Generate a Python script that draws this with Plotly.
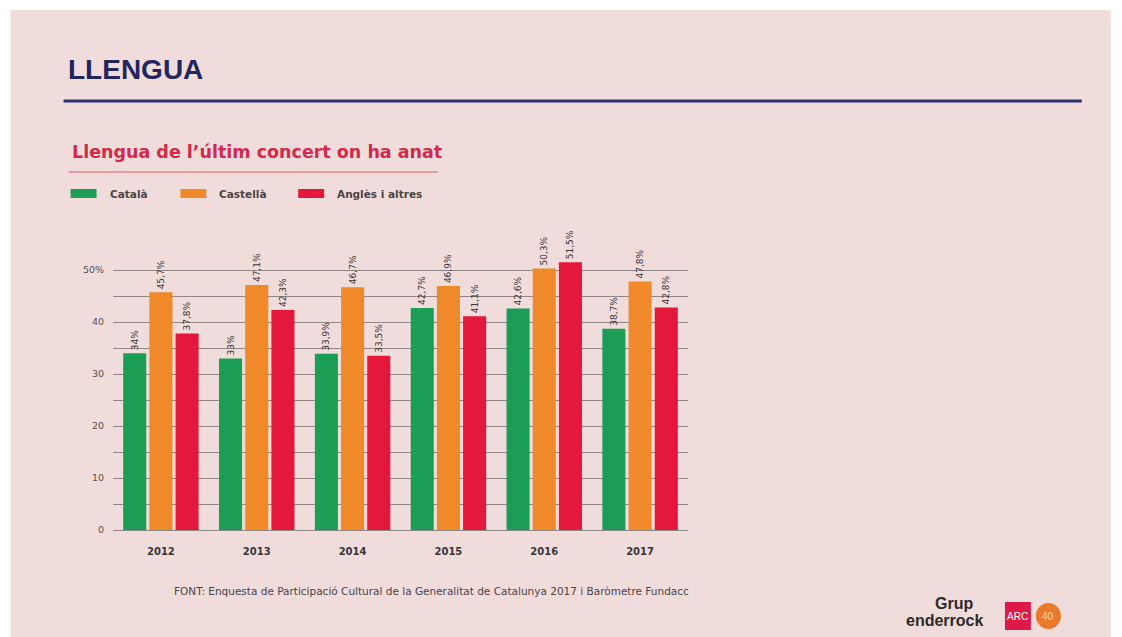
import plotly.graph_objects as go

# ---- data ----
years = ["2012", "2013", "2014", "2015", "2016", "2017"]
catala = [34.0, 33.0, 33.9, 42.7, 42.6, 38.7]
castella = [45.7, 47.1, 46.7, 46.9, 50.3, 47.8]
angles = [37.8, 42.3, 33.5, 41.1, 51.5, 42.8]
series_names = ["Català", "Castellà", "Anglès i altres"]
tick_vals = [0, 5, 10, 15, 20, 25, 30, 35, 40, 45, 50]
tick_text = ["0", "", "10", "", "20", "", "30", "", "40", "", "50%"]

colors = ["#1b9d55", "#f0892a", "#e3183c"]
BG = "#f1dcdc"
OFF = 8  # browser body margin
W, H = 1122 - OFF, 637 - OFF
# plot area in reference pixels
RL, RR, RT, RB = 112.5, 688.5, 218, 530
L, R, T, B = RL - OFF, RR - OFF, RT - OFF, RB - OFF
SANS = "DejaVu Sans"


def px(x):
    return (x - OFF - L) / (R - L)


def py(y):
    return (B - (y - OFF)) / (B - T)


def fmt(v):
    s = ("%.1f" % v).rstrip("0").rstrip(".")
    return s.replace(".", ",") + "%"


fig = go.Figure()
for name, vals, col in zip(series_names, [catala, castella, angles], colors):
    fig.add_trace(go.Bar(
        x=years, y=vals, name=name, marker=dict(color=col, line=dict(width=0)),
        text=[fmt(v) for v in vals], textposition="outside", textangle=-90,
        constraintext="none",
        textfont=dict(family=SANS, size=9, color="#383333"),
        cliponaxis=False, showlegend=False,
    ))

shapes = []
annotations = []
# slide background
shapes.append(dict(type="rect", xref="paper", yref="paper", layer="below",
                   x0=px(10), x1=px(1112), y0=py(10), y1=py(640),
                   fillcolor=BG, line=dict(width=0)))
# title line
shapes.append(dict(type="line", xref="paper", yref="paper",
                   x0=px(63), x1=px(1083), y0=py(101), y1=py(101),
                   line=dict(color="#2c3677", width=3)))
# subtitle underline
shapes.append(dict(type="line", xref="paper", yref="paper",
                   x0=px(68), x1=px(438), y0=py(172), y1=py(172),
                   line=dict(color="#d9566b", width=1.2)))

annotations.append(dict(text="<b>LLENGUA</b>", xref="paper", yref="paper",
                        x=px(65), y=py(70), xanchor="left", yanchor="middle",
                        showarrow=False,
                        font=dict(family="Liberation Sans", size=28, color="#23265c")))
annotations.append(dict(text="<b>Llengua de l’últim concert on ha anat</b>",
                        xref="paper", yref="paper", x=px(69), y=py(152),
                        xanchor="left", yanchor="middle", showarrow=False,
                        font=dict(family=SANS, size=17.5, color="#d6284a")))

# legend
leg_x = [70, 180, 298]
for lx, name, col in zip(leg_x, series_names, colors):
    shapes.append(dict(type="rect", xref="paper", yref="paper",
                       x0=px(lx), x1=px(lx + 26), y0=py(189), y1=py(198),
                       fillcolor=col, line=dict(width=0)))
    annotations.append(dict(text="<b>" + name + "</b>", xref="paper", yref="paper",
                            x=px(lx + 37), y=py(194), xanchor="left", yanchor="middle",
                            showarrow=False,
                            font=dict(family=SANS, size=10.5, color="#4a4444")))

# source
annotations.append(dict(
    text="FONT: Enquesta de Participació Cultural de la Generalitat de Catalunya 2017 i Baròmetre Fundacc",
    xref="paper", yref="paper", x=px(172), y=py(591), xanchor="left", yanchor="middle",
    showarrow=False, font=dict(family=SANS, size=10.5, color="#4a4444")))

# logos (approximation)
annotations.append(dict(text="<b>Grup</b>", xref="paper", yref="paper",
                        x=px(976), y=py(603), xanchor="right", yanchor="middle",
                        showarrow=False, font=dict(family="Liberation Sans", size=16, color="#2a2a2a")))
annotations.append(dict(text="<b>enderrock</b>", xref="paper", yref="paper",
                        x=px(986), y=py(620), xanchor="right", yanchor="middle",
                        showarrow=False, font=dict(family="Liberation Sans", size=16, color="#2a2a2a")))
shapes.append(dict(type="rect", xref="paper", yref="paper",
                   x0=px(1006), x1=px(1032), y0=py(602), y1=py(630),
                   fillcolor="#e01a48", line=dict(width=0)))
annotations.append(dict(text="ARC", xref="paper", yref="paper",
                        x=px(1019), y=py(616), xanchor="center", yanchor="middle",
                        showarrow=False, font=dict(family="Liberation Sans", size=10, color="white")))
shapes.append(dict(type="circle", xref="paper", yref="paper",
                   x0=px(1037), x1=px(1062), y0=py(603), y1=py(629),
                   fillcolor="#ea7a2a", line=dict(width=0)))
annotations.append(dict(text="40", xref="paper", yref="paper",
                        x=px(1049.5), y=py(616), xanchor="center", yanchor="middle",
                        showarrow=False, font=dict(family="Liberation Sans", size=10, color="#f8d8b8")))

fig.update_layout(
    width=W, height=H,
    margin=dict(l=L, r=W - R, t=T, b=H - B, pad=0),
    paper_bgcolor="white", plot_bgcolor="rgba(0,0,0,0)",
    barmode="group", bargap=0.18, bargroupgap=0.12,
    shapes=shapes, annotations=annotations,
    xaxis=dict(showgrid=False, ticks="outside", ticklen=12, tickcolor="rgba(0,0,0,0)",
               tickprefix="<b>", ticksuffix="</b>",
               tickfont=dict(family=SANS, size=10, color="#3a3535"),
               showline=False),
    yaxis=dict(range=[0, 60], tickvals=tick_vals, ticktext=tick_text,
               showgrid=True, gridcolor="#8f8686", gridwidth=1,
               zeroline=True, zerolinecolor="#8f8686", zerolinewidth=1,
               ticks="outside", ticklen=6, tickcolor="rgba(0,0,0,0)",
               tickfont=dict(family=SANS, size=9.5, color="#555050"),
               showline=False),
    font=dict(family=SANS),
)

fig.write_html("out.html")
